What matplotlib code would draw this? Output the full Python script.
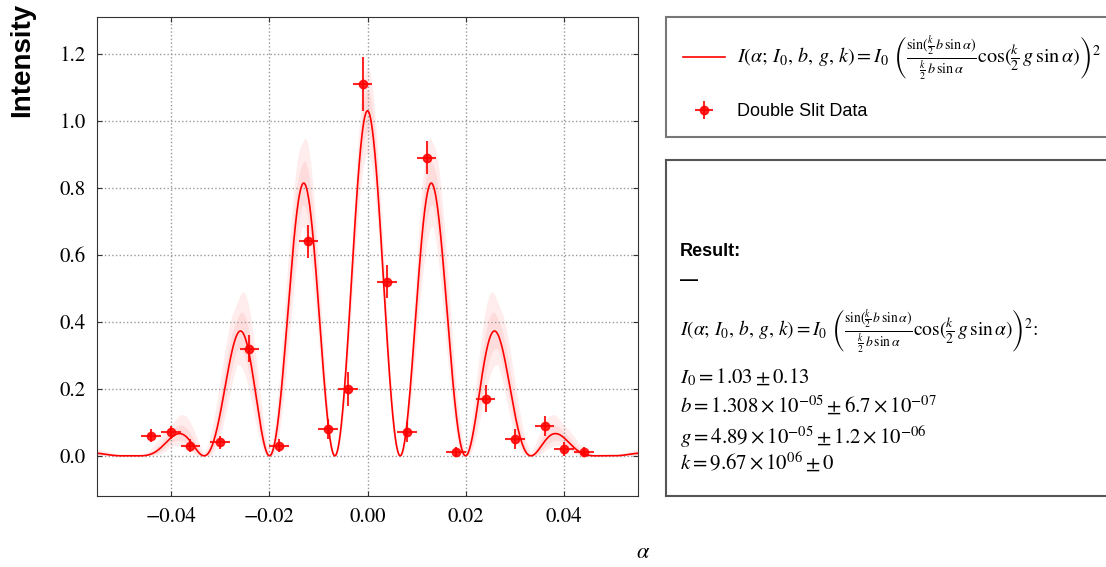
import itertools
import matplotlib
matplotlib.use("Agg")
import matplotlib.pyplot as plt
import numpy as np

plt.rcParams['font.family'] = 'STIXGeneral'
plt.rcParams['mathtext.fontset'] = 'stix'

# measured double slit data
alpha_data = [-0.044, -0.040, -0.036, -0.030, -0.024, -0.018, -0.012, -0.008, -0.004, -0.001,
              0.004, 0.008, 0.012, 0.018, 0.024, 0.030, 0.036, 0.040, 0.044]
intensity = [0.06, 0.07, 0.03, 0.04, 0.32, 0.03, 0.64, 0.08, 0.20, 1.11,
             0.52, 0.07, 0.89, 0.01, 0.17, 0.05, 0.09, 0.02, 0.01]
intensity_err = [0.02, 0.02, 0.02, 0.02, 0.04, 0.02, 0.05, 0.03, 0.05, 0.08,
                 0.05, 0.03, 0.05, 0.015, 0.04, 0.03, 0.03, 0.02, 0.015]
alpha_err = [0.002] * len(alpha_data)

# fit result
I0, I0_err = 1.03, 0.13
b, b_err = 1.308e-05, 6.7e-07
g, g_err = 4.89e-05, 1.2e-06
k = 9.67e06


def model(a, I0, b, g, k):
    s = k / 2 * b * np.sin(a)
    return I0 * (np.sinc(s / np.pi) * np.cos(k / 2 * g * np.sin(a))) ** 2


formula = (r'$I(\alpha;\, I_0,\, b,\, g,\, k) = I_0\ \left(\frac{\sin(\frac{k}{2}\, b\, \sin\alpha)}'
           r'{\frac{k}{2}\, b\, \sin\alpha}\cos(\frac{k}{2}\, g\, \sin\alpha)\right)^2$')

fig = plt.figure(figsize=(11.06, 5.67), dpi=100)
ax = fig.add_axes([97 / 1106, 1 - 496 / 567, 541 / 1106, 479 / 567])

x = np.linspace(-0.055, 0.055, 1500)
y = model(x, I0, b, g, k)

# uncertainty band from parameter variations
for scale, alpha in [(1.0, 0.07), (0.5, 0.07)]:
    curves = [model(x, I0 + s1 * scale * I0_err, b + s2 * scale * b_err, g + s3 * scale * g_err, k)
              for s1, s2, s3 in itertools.product([-1, 0, 1], repeat=3)]
    ax.fill_between(x, np.min(curves, axis=0), np.max(curves, axis=0),
                    color='red', alpha=alpha, lw=0)

line, = ax.plot(x, y, color='red', lw=1.2)
eb = ax.errorbar(alpha_data, intensity, xerr=alpha_err, yerr=intensity_err, fmt='o',
                 color='red', ms=6, mec='red', elinewidth=1.5, capsize=0, alpha=0.85)

ax.set_xlim(-0.055, 0.055)
ax.set_ylim(-0.12, 1.31)
ax.set_xticks([-0.04, -0.02, 0.0, 0.02, 0.04])
ax.set_yticks([0.0, 0.2, 0.4, 0.6, 0.8, 1.0, 1.2])
ax.xaxis.set_major_formatter(matplotlib.ticker.FuncFormatter(
    lambda v, p: ('%.2f' % v).replace('-', '\u2212')))
ax.yaxis.set_major_formatter(matplotlib.ticker.FuncFormatter(
    lambda v, p: ('%.1f' % v).replace('-', '\u2212')))
ax.tick_params(direction='in', top=True, right=True, labelsize=15, pad=8, color='#333333')
ax.grid(True, color='0.6', linestyle=':', lw=1)
for sp in ax.spines.values():
    sp.set_color('#333333')

fig.text(22 / 1106, 1 - 3 / 567, 'Intensity', rotation=90, ha='center', va='top',
         family='Liberation Sans', weight='bold', fontsize=20)
fig.text(643 / 1106, 1 - 553 / 567, r'$\alpha$', ha='center', va='center', fontsize=16)

leg = ax.legend([line, eb], [formula, 'Double Slit Data'], loc='upper left',
                bbox_to_anchor=(666 / 1106, 1 - 17 / 567), bbox_transform=fig.transFigure,
                fontsize=13, fancybox=False, borderaxespad=0, handlelength=2.3,
                handletextpad=0.7, labelspacing=1.2, borderpad=0.95)
leg.get_frame().set_edgecolor('#555555')
leg.get_frame().set_linewidth(1.5)
for t in leg.get_texts():
    if t.get_text() == 'Double Slit Data':
        t.set_family('Liberation Sans')
    else:
        t.set_fontsize(14.5)

# result box
rax = fig.add_axes([666 / 1106, 1 - 496 / 567, 0.6, 336 / 567])
rax.set_xticks([])
rax.set_yticks([])
for sp in rax.spines.values():
    sp.set_color('#555555')
    sp.set_linewidth(1.5)


def rtext(ypix, s, **kw):
    fig.text(680 / 1106, 1 - ypix / 567, s, ha='left', va='center', **kw)


rtext(252, 'Result:', family='Liberation Sans', weight='bold', fontsize=13)
rtext(281, '—', family='Liberation Sans', weight='bold', fontsize=13)
rtext(330, formula + ':', fontsize=14)
rtext(378, r'$I_0 = 1.03 \pm 0.13$', fontsize=15)
rtext(406, r'$b = 1.308 \times 10^{-05} \pm 6.7 \times 10^{-07}$', fontsize=15)
rtext(437, r'$g = 4.89 \times 10^{-05} \pm 1.2 \times 10^{-06}$', fontsize=15)
rtext(463, r'$k = 9.67 \times 10^{06} \pm 0$', fontsize=15)

fig.savefig('out.png', dpi=100)
